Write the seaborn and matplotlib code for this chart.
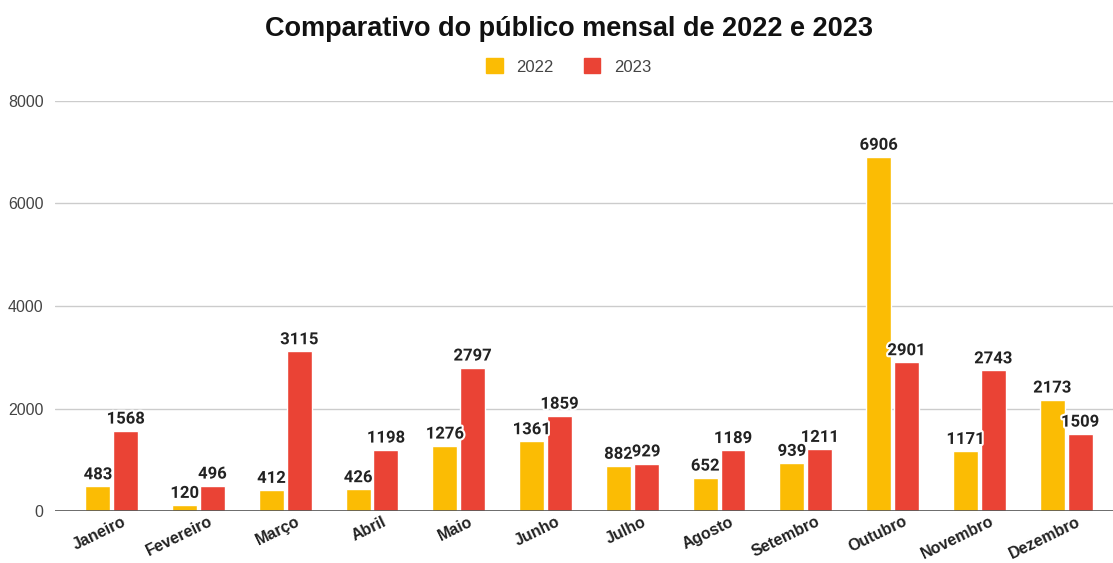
import matplotlib
matplotlib.use("Agg")
import matplotlib.pyplot as plt
import matplotlib.patheffects as pe
import matplotlib.transforms as mtransforms
import seaborn as sns
import pandas as pd

meses = ["Janeiro", "Fevereiro", "Março", "Abril", "Maio", "Junho", "Julho",
         "Agosto", "Setembro", "Outubro", "Novembro", "Dezembro"]
publico_2022 = [483, 120, 412, 426, 1276, 1361, 882, 652, 939, 6906, 1171, 2173]
publico_2023 = [1568, 496, 3115, 1198, 2797, 1859, 929, 1189, 1211, 2901, 2743, 1509]
anos = ["2022", "2023"]
cores = ["#FBBC04", "#EA4335"]

df = pd.DataFrame({
    "mes": meses * 2,
    "publico": publico_2022 + publico_2023,
    "ano": [anos[0]] * 12 + [anos[1]] * 12,
})

sns.set_theme(style="white")
plt.rcParams["font.family"] = ["Liberation Sans", "DejaVu Sans"]

fig = plt.figure(figsize=(11.13, 5.63), dpi=100)
ax = fig.add_axes([0.049, 0.092, 0.951, 0.729])

sns.barplot(data=df, x="mes", y="publico", hue="ano", palette=cores,
            width=0.64, gap=0.1, saturation=1, ax=ax, legend=False)

# rótulos dos valores com contorno branco
halo = [pe.withStroke(linewidth=3, foreground="white")]
for cont in ax.containers:
    ax.bar_label(cont, padding=3, fontsize=12, fontweight="bold",
                 family=["Roboto", "DejaVu Sans"], color="#222222",
                 path_effects=halo)

ax.set_ylim(0, 8000)
ax.set_xlim(-0.66, 11.54)
ax.set_yticks([0, 2000, 4000, 6000, 8000])
ax.yaxis.grid(True, color="#cccccc", linewidth=1)
ax.set_axisbelow(True)
ax.axhline(0, color="#555555", linewidth=1.2)
for s in ax.spines.values():
    s.set_visible(False)
ax.set_xlabel("")
ax.set_ylabel("")
ax.tick_params(axis="y", labelsize=11.5, colors="#444444", length=0, pad=8)
ax.tick_params(axis="x", length=0, pad=2)
desloc = mtransforms.ScaledTranslation(0.10, 0, fig.dpi_scale_trans)
for lab in ax.get_xticklabels():
    lab.set_rotation(26)
    lab.set_ha("right")
    lab.set_rotation_mode("anchor")
    lab.set_fontsize(11.5)
    lab.set_fontweight("bold")
    lab.set_color("#222222")
    lab.set_transform(lab.get_transform() + desloc)

handles = [plt.Rectangle((0, 0), 1, 1, color=c) for c in cores]
leg = fig.legend(handles, anos, loc="center", bbox_to_anchor=(0.511, 0.882), ncol=2,
                 frameon=False, fontsize=12, handlelength=1, handleheight=1,
                 columnspacing=1.8, handletextpad=0.8)
for t in leg.get_texts():
    t.set_color("#444444")

fig.suptitle("Comparativo do público mensal de 2022 e 2023", x=0.511, y=0.972,
             fontsize=19.5, fontweight="bold", color="#111111")

fig.savefig("out.png", dpi=100)
